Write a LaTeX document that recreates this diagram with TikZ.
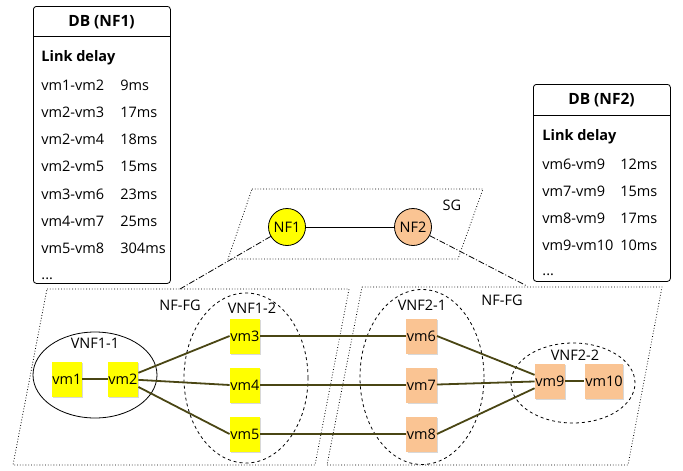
\documentclass[tikz,border=0pt]{standalone}
\usepackage{fontspec}
\setmainfont{Open Sans}
\usetikzlibrary{positioning,shapes.geometric,shadows}

\definecolor{vmyellow}{HTML}{FFFF00}
\definecolor{vmorange}{HTML}{FAC493}
\definecolor{linkcol}{HTML}{4A4614}

\begin{document}
\begin{tikzpicture}[
x=1pt,y=-1pt,
line width=0.8pt,
font=\fontsize{14.5}{16}\selectfont,
vmbox/.style={
fill=#1,
minimum width=30pt,
minimum height=35pt,
inner sep=0.5pt,
drop shadow={shadow xshift=1.2pt,shadow yshift=-1.2pt,fill=gray!60}
},
nfcircle/.style={
circle,
draw,
fill=#1,
minimum size=37pt,
inner sep=0pt
},
vnfgroup/.style={
ellipse,
draw,
minimum width=124pt,
minimum height=#1
},
dbbox/.style={
draw,
rounded corners=3pt,
minimum width=137pt,
anchor=north west
},
dbtitle/.style={font=\fontsize{15.5}{17}\selectfont\bfseries},
rowtext/.style={anchor=west,inner sep=0pt},
link/.style={draw=linkcol,line width=1.8pt},
fgline/.style={dash pattern=on 6pt off 2pt on 1pt off 2pt}
]
\useasboundingbox (0,0) rectangle (683,471);

% databases
\node (db1) [dbbox,minimum height=277pt] at (33,6) {};
\draw (db1.north west) ++(0,30) -- ++(137,0);
\node (db1title) [dbtitle] at (101.5,22) {DB (NF1)};
\node (db1head) [rowtext] at (41,58) {\bfseries Link delay};
\foreach \lnk/\dly [count=\i] in {vm1-vm2/9ms,vm2-vm3/17ms,vm2-vm4/18ms,vm2-vm5/15ms,vm3-vm6/23ms,vm4-vm7/25ms,vm5-vm8/304ms}{
\node [rowtext] at (41,{58+27.2*\i}) {\lnk};
\node [rowtext] at (120,{58+27.2*\i}) {\dly};
}
\node [rowtext] at (41,279) {...};

\node (db2) [dbbox,minimum height=197pt] at (533,84) {};
\draw (db2.north west) ++(0,31) -- ++(137,0);
\node (db2title) [dbtitle] at (601.5,100) {DB (NF2)};
\node (db2head) [rowtext] at (542,137) {\bfseries Link delay};
\foreach \lnk/\dly [count=\i] in {vm6-vm9/12ms,vm7-vm9/15ms,vm8-vm9/17ms,vm9-vm10/10ms}{
\node [rowtext] at (542,{137+27*\i}) {\lnk};
\node [rowtext] at (620,{137+27*\i}) {\dly};
}
\node [rowtext] at (542,275) {...};

% service graph
\draw[dotted] (252,189) -- (483,189) -- (458,259) -- (228,259) -- cycle;
\node (sg) at (452,205) {SG};
\node (nf1) [nfcircle=vmyellow] at (287,227) {NF1};
\node (nf2) [nfcircle=vmorange] at (413,227) {NF2};
\draw (nf1) -- (nf2);

% forwarding graphs
\draw[dotted] (47,289) -- (349,289) -- (315,465) -- (13,465) -- cycle;
\draw[dotted] (362,287) -- (662,287) -- (628,465) -- (327,465) -- cycle;
\node (fg1) at (180,305) {NF-FG};
\node (fg2) at (502,300) {NF-FG};
\coordinate (fg1top) at (180,289);
\coordinate (fg2top) at (527,286);
\draw[fgline] (nf1) -- (fg1top);
\draw[fgline] (nf2) -- (fg2top);

% VNF groups
\node (vnf11) [vnfgroup=86pt] at (95,375) {};
\node at (95,343) {VNF1-1};
\node (vnf12) [vnfgroup=170pt,dashed] at (246,378) {};
\node at (252,308) {VNF1-2};
\node (vnf21) [vnfgroup=175pt,dashed] at (422,377) {};
\node at (422,305) {VNF2-1};
\node (vnf22) [vnfgroup=80pt,dashed] at (573,383) {};
\node at (575,355) {VNF2-2};

% vms
\node (vm1) [vmbox=vmyellow] at (67,379) {vm1};
\node (vm2) [vmbox=vmyellow] at (123,379) {vm2};
\node (vm3) [vmbox=vmyellow] at (245,336) {vm3};
\node (vm4) [vmbox=vmyellow] at (245,385) {vm4};
\node (vm5) [vmbox=vmyellow] at (245,434) {vm5};
\node (vm6) [vmbox=vmorange] at (421.5,336) {vm6};
\node (vm7) [vmbox=vmorange] at (421.5,385) {vm7};
\node (vm8) [vmbox=vmorange] at (421.5,434) {vm8};
\node (vm9) [vmbox=vmorange] at (550,381) {vm9};
\node (vm10) [vmbox=vmorange,minimum width=37pt] at (604,381) {vm10};

\draw[link] (vm1) -- (vm2);
\draw[link] (vm2) -- (vm3.west);
\draw[link] (vm2) -- (vm4.west);
\draw[link] (vm2) -- (vm5.west);
\draw[link] (vm3) -- (vm6);
\draw[link] (vm4) -- (vm7);
\draw[link] (vm5) -- (vm8);
\draw[link] (vm6.east) -- (vm9);
\draw[link] (vm7) -- (vm9);
\draw[link] (vm8.east) -- (vm9);
\draw[link] (vm9) -- (vm10);

\end{tikzpicture}
\end{document}
